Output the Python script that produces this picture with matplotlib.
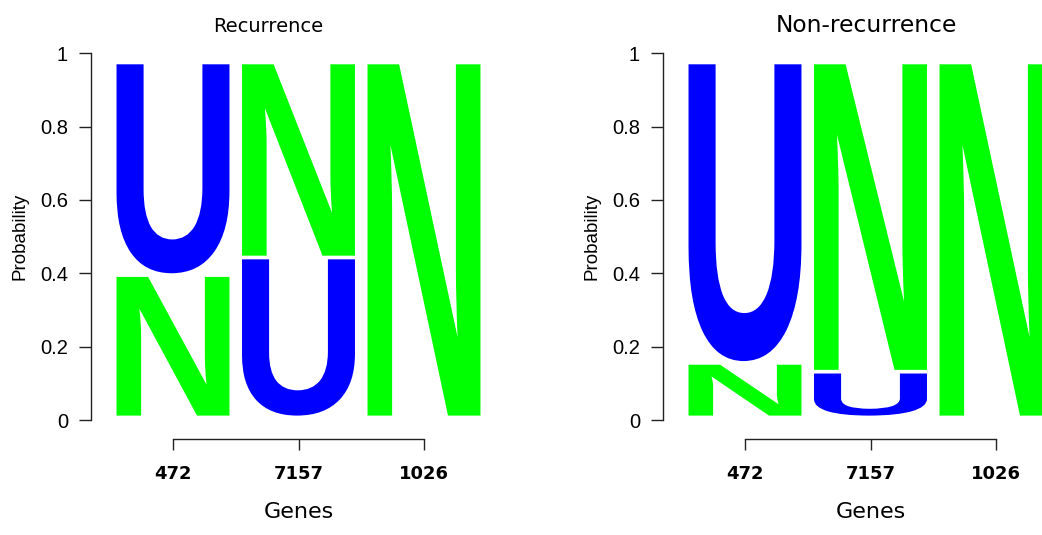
import matplotlib
matplotlib.use("Agg")
import matplotlib.pyplot as plt
from matplotlib.textpath import TextPath
from matplotlib.font_manager import FontProperties
from matplotlib.patches import PathPatch
from matplotlib.transforms import Affine2D

# ---- data -------------------------------------------------------------
genes = ["472", "7157", "1026"]
letters = ["U", "N"]
recurrence_U = [0.60, 0.45, 0.00]
recurrence_N = [0.40, 0.55, 1.00]
nonrecurrence_U = [0.85, 0.125, 0.00]
nonrecurrence_N = [0.15, 0.875, 1.00]
panel_titles = ["Recurrence", "Non-recurrence"]

letter_colors = {"U": "#0000ff", "N": "#00ff00"}

# ---- figure geometry (pixels) ----------------------------------------
W, H, DPI = 1042, 535, 100
fig = plt.figure(figsize=(W / DPI, H / DPI), dpi=DPI)
PT = 72.0 / DPI  # points per pixel

glyph_font = FontProperties(family="Liberation Sans", weight="bold")


def glyph_unit_path(ch):
    """Glyph outline normalised to the unit square."""
    tp = TextPath((0, 0), ch, size=100, prop=glyph_font)
    ext = tp.get_extents()
    t = Affine2D().translate(-ext.x0, -ext.y0).scale(1.0 / ext.width,
                                                     1.0 / ext.height)
    return t.transform_path(tp)


GLYPHS = {ch: glyph_unit_path(ch) for ch in letters}


def draw_letter(ax, ch, xc, y0, y1, width=0.9):
    t = Affine2D().scale(width, y1 - y0).translate(xc - width / 2, y0)
    path = t.transform_path(GLYPHS[ch])
    ax.add_patch(PathPatch(path, facecolor=letter_colors[ch],
                           edgecolor="none", lw=0))


def draw_logo(ax, probs_u, probs_n, base=0.012, top=0.97, gap=0.005):
    span = top - base
    for i in range(len(genes)):
        xc = i + 1
        stack = sorted([("U", probs_u[i]), ("N", probs_n[i])],
                       key=lambda t: t[1])
        cum = 0.0
        for ch, p in stack:
            if p <= 0:
                continue
            lo = base + cum * span
            hi = base + (cum + p) * span
            if cum > 0:
                lo += gap
            if cum + p < 0.999:
                hi -= gap
            draw_letter(ax, ch, xc, lo, hi)
            cum += p


def make_panel(offset_px, probs_u, probs_n):
    left_px = 91 + offset_px
    right_px = 540 + offset_px
    top_px, bottom_px = 53.3, 420.0
    x1_px = 173.0 + offset_px
    unit_px = 125.5
    ax = fig.add_axes([left_px / W, 1 - bottom_px / H,
                       (right_px - left_px) / W, (bottom_px - top_px) / H])
    ax.set_xlim(1 - (x1_px - left_px) / unit_px,
                1 + (right_px - x1_px) / unit_px)
    ax.set_ylim(0, 1)

    draw_logo(ax, probs_u, probs_n)

    for s in ("top", "right"):
        ax.spines[s].set_visible(False)
    ax.spines["left"].set_bounds(0, 1)
    ax.spines["bottom"].set_position(("outward", 19 * PT))
    ax.spines["bottom"].set_bounds(1, 3)
    for s in ("left", "bottom"):
        ax.spines[s].set_linewidth(1.0)
        ax.spines[s].set_color("#222222")

    ax.set_yticks([0, 0.2, 0.4, 0.6, 0.8, 1.0])
    ax.set_yticklabels(["0", "0.2", "0.4", "0.6", "0.8", "1"],
                       fontfamily="Liberation Sans", fontsize=14.5)
    ax.tick_params(axis="y", length=12 * PT, width=1.0, pad=11 * PT,
                   color="#222222")
    ax.set_xticks([1, 2, 3])
    ax.set_xticklabels(genes, fontfamily="DejaVu Sans", fontweight="bold",
                       fontsize=13)
    ax.tick_params(axis="x", length=11 * PT, width=1.0, pad=15 * PT,
                   color="#222222")

    ax.set_ylabel("Probability", fontfamily="Liberation Sans", fontsize=13.5)
    ax.yaxis.set_label_coords(-62 / (right_px - left_px), 0.5)

    fig.text((x1_px + unit_px) / W, 1 - 512 / H, "Genes",
             ha="center", va="center", fontfamily="DejaVu Sans", fontsize=16)
    return ax


make_panel(0, recurrence_U, recurrence_N)
make_panel(572, nonrecurrence_U, nonrecurrence_N)

fig.text(268 / W, 1 - 26 / H, panel_titles[0], ha="center", va="center",
         fontfamily="DejaVu Sans", fontsize=14)
fig.text(866 / W, 1 - 25 / H, panel_titles[1], ha="center", va="center",
         fontfamily="DejaVu Sans", fontsize=16.8)

fig.savefig("out.png", dpi=DPI)
